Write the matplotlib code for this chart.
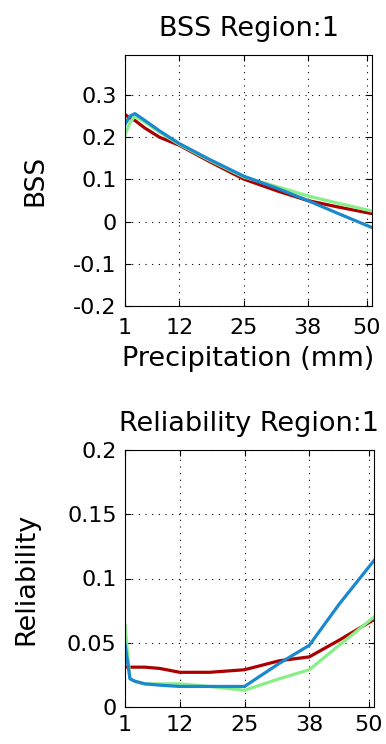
import matplotlib
matplotlib.use('Agg')
import matplotlib.pyplot as plt

# precipitation thresholds (mm)
x = [1, 2, 3, 5, 8, 12, 18, 25, 32, 38, 44, 51]

# BSS per model
bss_red = [0.254, 0.245, 0.240, 0.222, 0.200, 0.181, 0.143, 0.101, 0.072, 0.050, 0.035, 0.019]
bss_green = [0.206, 0.235, 0.250, 0.236, 0.212, 0.183, 0.146, 0.106, 0.082, 0.061, 0.044, 0.025]
bss_blue = [0.231, 0.250, 0.256, 0.240, 0.215, 0.185, 0.148, 0.108, 0.078, 0.050, 0.020, -0.014]

# reliability per model
rel_red = [0.031, 0.031, 0.031, 0.031, 0.030, 0.027, 0.027, 0.029, 0.036, 0.039, 0.052, 0.068]
rel_green = [0.064, 0.022, 0.020, 0.018, 0.018, 0.018, 0.016, 0.013, 0.022, 0.029, 0.048, 0.070]
rel_blue = [0.049, 0.022, 0.020, 0.018, 0.017, 0.016, 0.016, 0.016, 0.034, 0.048, 0.080, 0.114]

xticks = [1, 12, 25, 38, 50]
bss_yticks = [-0.2, -0.1, 0, 0.1, 0.2, 0.3]
bss_ylabels = ['-0.2', '-0.1', '0', '0.1', '0.2', '0.3']
rel_yticks = [0, 0.05, 0.1, 0.15, 0.2]
rel_ylabels = ['0', '0.05', '0.1', '0.15', '0.2']

c_red = '#aa0000'
c_green = '#88ee88'
c_blue = '#1a88cc'

plt.rcParams['font.family'] = ['DejaVu Sans']
plt.rcParams['font.size'] = 16

fig = plt.figure(figsize=(3.86, 7.44), dpi=100)
W, H = 386, 744


def style_axes(ax, xpad):
    ax.grid(True, color='black', linestyle=(0, (1, 5)), linewidth=0.8)
    ax.tick_params(direction='in', top=True, right=True, length=4, width=0.8)
    ax.tick_params(axis='y', pad=6)
    ax.tick_params(axis='x', pad=xpad)
    for s in ax.spines.values():
        s.set_linewidth(0.8)


# top panel: BSS
ax1 = fig.add_axes([125 / W, 1 - 306 / H, 247 / W, 251 / H])
ax1.plot(x, bss_red, color=c_red, lw=2.3)
ax1.plot(x, bss_green, color=c_green, lw=2.3)
ax1.plot(x, bss_blue, color=c_blue, lw=2.3)
ax1.set_xlim(1, 51)
ax1.set_ylim(-0.2, 0.395)
ax1.set_xticks(xticks)
ax1.set_yticks(bss_yticks)
ax1.set_yticklabels(bss_ylabels)
ax1.set_title('BSS Region:1', fontsize=19.5, pad=14)
ax1.set_ylabel('BSS', fontsize=19, labelpad=18)
ax1.set_xlabel('Precipitation (mm)', fontsize=19.5, labelpad=6)
style_axes(ax1, 8.5)

# bottom panel: reliability
ax2 = fig.add_axes([125 / W, 1 - 707 / H, 249 / W, 257 / H])
ax2.plot(x, rel_red, color=c_red, lw=2.3)
ax2.plot(x, rel_green, color=c_green, lw=2.3)
ax2.plot(x, rel_blue, color=c_blue, lw=2.3)
ax2.set_xlim(1, 51)
ax2.set_ylim(0, 0.2)
ax2.set_xticks(xticks)
ax2.set_yticks(rel_yticks)
ax2.set_yticklabels(rel_ylabels)
ax2.set_title('Reliability Region:1', fontsize=19.5, pad=14)
ax2.set_ylabel('Reliability', fontsize=19.5, labelpad=20)
style_axes(ax2, 5.5)

fig.savefig('out.png', dpi=100)
